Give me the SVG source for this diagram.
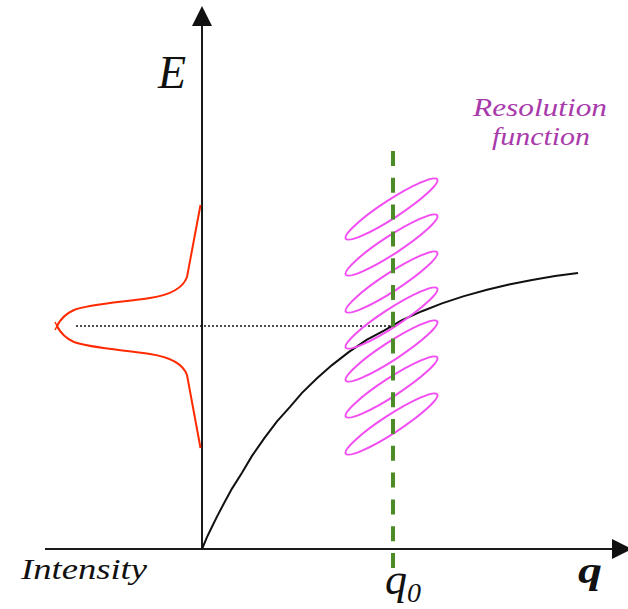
<svg xmlns="http://www.w3.org/2000/svg" width="628" height="609" viewBox="0 0 628 609">
  <defs>
    <style>
      .axis { stroke: #1a1a1a; stroke-width: 2; fill: none; }
      .serif { font-family: "Liberation Serif", "Times New Roman", serif; font-style: italic; }
      .ell { fill: none; stroke: #f24ef2; stroke-width: 2; }
    </style>
    <marker id="arrow" viewBox="0 0 20 20" refX="0" refY="10" markerWidth="20" markerHeight="20" markerUnits="userSpaceOnUse" orient="auto">
      <path d="M0,0 L20,10 L0,20 Z" fill="#111"/>
    </marker>
  </defs>
  <rect width="628" height="609" fill="#fff"/>

  <g id="connectors">
    <line id="x-axis" class="axis" x1="45" y1="549" x2="612" y2="549" marker-end="url(#arrow)"/>
    <line id="y-axis" class="axis" x1="202" y1="549" x2="202" y2="26" marker-end="url(#arrow)"/>
    <line id="dotted" x1="76" y1="326" x2="392" y2="326" stroke="#111" stroke-width="1.5" stroke-dasharray="2 2"/>
  </g>

  <g id="dispersion">
    <polyline fill="none" stroke="#111" stroke-width="2" points="202,549 207,537.1 212,526.7 217,516.6 224,503.2 232,488.6 242,472.7 252,455.9 264,438.6 277,421.4 290,406.9 302,392.9 317,378.2 332,365.1 349,351.9 367,339.7 384,330.6 402,320.2 422,311.2 442,303.4 464,296.1 487,289.7 509,284.5 532,280 555,276.1 578,272.9"/>
  </g>

  <g id="intensity-profile">
    <path fill="none" stroke="#ff2a00" stroke-width="2" d="M200.5,205 L187,277 C183,288 170,295 150,298 C125,302 90,304 74,310 C65,314 60,320 57,326 C60,332 65,338 74,342 C90,348 125,350 150,354 C170,357 183,364 187,375 L200.5,448"/>
    <path fill="none" stroke="#ff2a00" stroke-width="1.5" d="M55,322 L59,330 M55,330 L59,322"/>
  </g>

  <g id="resolution-ellipses">
    <ellipse class="ell" cx="391.5" cy="209" rx="54.5" ry="9" transform="rotate(-33 391.5 209)"/>
    <ellipse class="ell" cx="391.5" cy="245" rx="54.5" ry="9" transform="rotate(-33 391.5 245)"/>
    <ellipse class="ell" cx="391.5" cy="282" rx="54.5" ry="9" transform="rotate(-33 391.5 282)"/>
    <ellipse class="ell" cx="391.5" cy="318" rx="54.5" ry="9" transform="rotate(-33 391.5 318)"/>
    <ellipse class="ell" cx="391.5" cy="351" rx="54.5" ry="9" transform="rotate(-33 391.5 351)"/>
    <ellipse class="ell" cx="391.5" cy="387" rx="54.5" ry="9" transform="rotate(-33 391.5 387)"/>
    <ellipse class="ell" cx="391.5" cy="424" rx="54.5" ry="9" transform="rotate(-33 391.5 424)"/>
  </g>

  <g id="q0-line">
    <line x1="393" y1="151" x2="393" y2="569" stroke="#4b8b28" stroke-width="4" stroke-dasharray="15 11.8"/>
  </g>

  <g id="labels">
    <text class="serif" x="158" y="88" font-size="46" fill="#111">E</text>
    <text class="serif" font-size="25" fill="#a83aac"><tspan x="473" y="116" textLength="134" lengthAdjust="spacingAndGlyphs">Resolution</tspan><tspan x="492" y="145" textLength="98" lengthAdjust="spacingAndGlyphs">function</tspan></text>
    <text class="serif" x="21" y="579" font-size="29" fill="#111" textLength="126" lengthAdjust="spacingAndGlyphs">Intensity</text>
    <text class="serif" x="578" y="583" font-size="38" font-weight="bold" fill="#111" textLength="24" lengthAdjust="spacingAndGlyphs">q</text>
    <text class="serif" x="385" y="594" font-size="44" fill="#111">q<tspan dy="8" font-size="28">0</tspan></text>
  </g>
</svg>
